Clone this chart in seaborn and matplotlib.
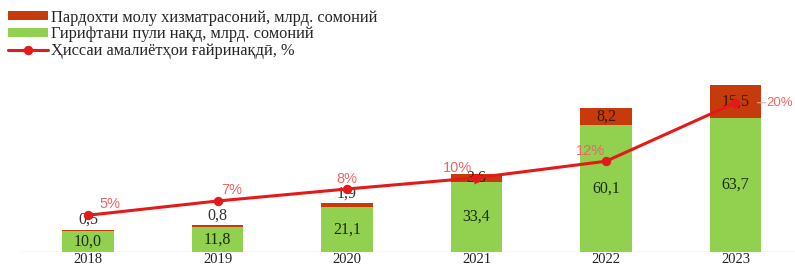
import numpy as np
import pandas as pd
import matplotlib
matplotlib.use("Agg")
import matplotlib.pyplot as plt
import seaborn as sns

years = ["2018", "2019", "2020", "2021", "2022", "2023"]
cash = [10.0, 11.8, 21.1, 33.4, 60.1, 63.7]
payments = [0.5, 0.8, 1.9, 3.6, 8.2, 15.5]
share = [4.9, 6.8, 8.4, 9.9, 12.1, 19.9]

lbl_pay = "Пардохти молу хизматрасоний, млрд. сомоний"
lbl_cash = "Гирифтани пули нақд, млрд. сомоний"
lbl_share = "Ҳиссаи амалиётҳои ғайринақдӣ, %"

GREEN = "#92D050"
RED = "#C63A0C"
LINE = "#E41A1A"
PCT = "#E56868"

sns.set_theme(style="white")
plt.rcParams["font.family"] = ["Liberation Serif", "DejaVu Serif"]

fig = plt.figure(figsize=(7.95, 2.69), dpi=100)
ax = fig.add_axes([0, 17 / 269, 1, 252 / 269])

df = pd.DataFrame({"year": years, "cash": cash, "pay": payments})
df["total"] = df["cash"] + df["pay"]

sns.barplot(data=df, x="year", y="total", color=RED, width=0.40, saturation=1,
            ax=ax, label=lbl_pay, linewidth=0)
sns.barplot(data=df, x="year", y="cash", color=GREEN, width=0.40, saturation=1,
            ax=ax, label=lbl_cash, linewidth=0)

ax.set_xlim(-0.68, 5.46)
ax.set_ylim(0, 252 / 2.11)
for s in ax.spines.values():
    s.set_visible(False)
ax.set_yticks([])
ax.set_xlabel("")
ax.set_ylabel("")
ax.tick_params(axis="x", length=0, pad=1, labelsize=10.5, labelcolor="#222222")
ax.axhline(0, xmin=20 / 795, xmax=1, color="#d9d9d9", lw=1, zorder=0)

# value labels
for i, (c, p) in enumerate(zip(cash, payments)):
    ax.text(i, c / 2, f"{c:.1f}".replace(".", ","), ha="center", va="center",
            fontsize=11.5, color="#1a2e0c")
    t = f"{p:.1f}".replace(".", ",")
    if p < 3:
        ax.annotate(t, (i, c + p), xytext=(0, 7), textcoords="offset points",
                    ha="center", va="center", fontsize=11.5, color="#333333")
    else:
        ax.text(i, c + p / 2, t, ha="center", va="center", fontsize=11.5,
                color="#3a1a10")

ax2 = ax.twinx()
ax2.set_position(ax.get_position())
sns.lineplot(x=np.arange(len(years)), y=share, ax=ax2, color=LINE, lw=2.2,
             marker="o", markersize=6, markeredgecolor=LINE, label=lbl_share)
ax2.set_ylim(0, 252 / 7.5)
ax2.set_yticks([])
ax2.set_ylabel("")
for s in ax2.spines.values():
    s.set_visible(False)

offsets = [(16, 3), (10, 3), (0, 2.5), (-14, 2), (-11, 2), (0, 0)]
for i, (v, off) in enumerate(zip(share, offsets)):
    t = f"{v:.0f}%"
    if i == len(share) - 1:
        ax2.annotate("", (i + 0.17, v), xytext=(i + 0.235, v),
                     arrowprops=dict(arrowstyle="-", color="#f0a0a0", lw=0.8,
                                     shrinkA=0, shrinkB=0))
        ax2.text(i + 0.24, v, t, ha="left", va="center", fontsize=9.5,
                 color=PCT, family=["Liberation Sans", "DejaVu Sans"])
    else:
        ax2.annotate(t, (i, v), xytext=off, textcoords="offset points",
                     ha="center", va="bottom", fontsize=10.5, color=PCT,
                     family=["Liberation Sans", "DejaVu Sans"])

h1, l1 = ax.get_legend_handles_labels()
h2, l2 = ax2.get_legend_handles_labels()
if ax2.get_legend():
    ax2.get_legend().remove()
if ax.get_legend():
    ax.get_legend().remove()
leg = fig.legend(h1 + h2, l1 + l2, loc="upper left", bbox_to_anchor=(0.0, 0.995),
                 frameon=False, fontsize=11.8, handlelength=2.45, handleheight=0.45,
                 labelspacing=0.05, handletextpad=0.15, borderaxespad=0.2,
                 borderpad=0.3)

fig.savefig("out.png", dpi=100)
